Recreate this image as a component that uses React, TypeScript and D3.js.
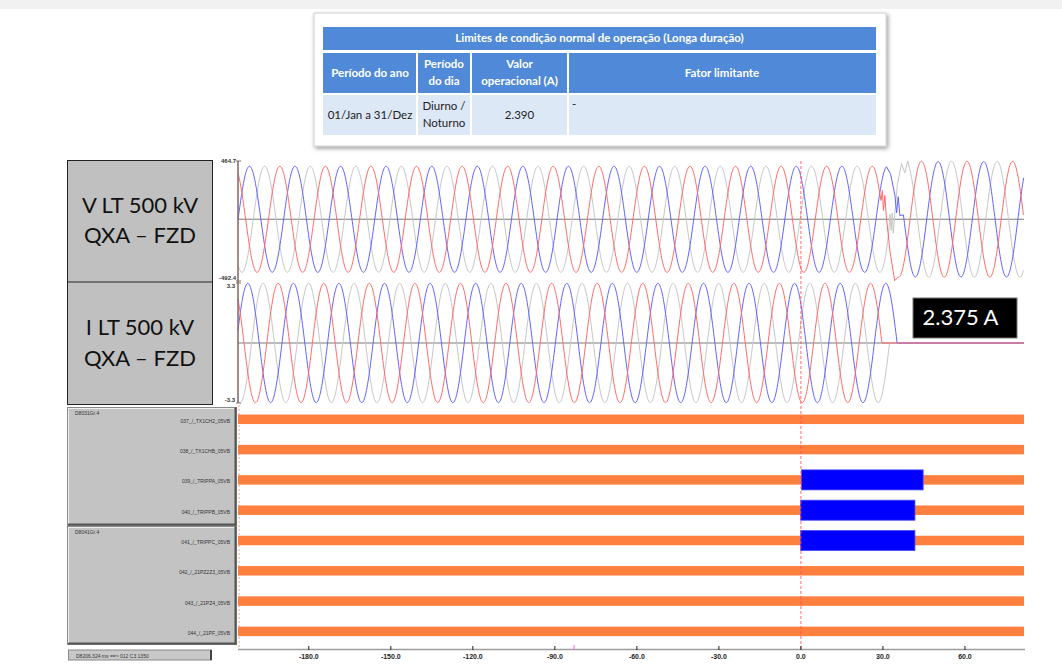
import React from "react";
import * as d3 from "d3";

// ---------- DATA ----------
const timeTicks = [-180, -150, -120, -90, -60, -30, 0, 30, 60];
const timeDomain = [-205.9, 81.6]; // ms
const periodMs = 16.667; // 60 Hz

// phase order as drawn: gray, red, blue
const phaseColors = ["#c6c6c6", "#ff6a6a", "#6262ff"];

// Voltage (kV)
const voltageRange = [-492.4, 464.7];
const voltagePeakPre = [423, 423, 423];
const voltagePeakTimePre = [3.86, 9.41, -1.7];
const voltagePeakPost = [462, 462, 460];
const voltagePeakTimePost = [55.1, 44.1, 50.2];
const voltageTransientStart = [31.0, 28.0, 31.3];
const voltageTransientEnd = [40.0, 35.6, 37.5];
const voltageTransientGray: [number, number][] = [
  [32.0, -130], [32.6, 40], [33.0, -90], [33.4, 50], [33.8, -110], [34.4, 60],
  [35.3, 280], [36.8, 445], [38.0, 370], [39.1, 465],
];
const voltageTransientRed: [number, number][] = [
  [29.3, 150], [29.8, 230], [30.2, 70], [30.7, 190], [31.2, 30], [32.6, -260], [34.3, -490],
];
const voltageTransientBlue: [number, number][] = [
  [32.8, 360], [34.4, 190], [35.0, 50], [35.6, 180], [36.2, 30],
];
const voltageTransients = [voltageTransientGray, voltageTransientRed, voltageTransientBlue];

// Current (kA)
const currentRange = [-3.3, 3.3];
const currentPeak = [3.28, 3.28, 3.28];
const currentPeakTime = [3.26, 8.81, -2.3];
const currentEnd = [32.43, 29.64, 35.2];

// Digital channels
const groupNames = ["D8031Gr.4", "D8041Gr.4"];
const channelNames = [
  "037_/_TX1CH2_05VB",
  "038_/_TX1CHB_05VB",
  "039_/_TRIPPA_05VB",
  "040_/_TRIPPB_05VB",
  "041_/_TRIPPC_05VB",
  "042_/_21PZ2Z3_05VB",
  "043_/_21PZ4_05VB",
  "044_/_21PF_05VB",
];
const tripChannels = [2, 3, 4];
const tripStart = [0.25, -0.1, -0.1];
const tripEnd = [44.7, 41.7, 41.7];

// Table
const tableTitle = "Limites de condição normal de operação (Longa duração)";
const tableHeaders = [["Período do ano"], ["Período", "do dia"], ["Valor", "operacional (A)"], ["Fator limitante"]];
const tableRow = [["01/Jan a 31/Dez"], ["Diurno /", "Noturno"], ["2.390"], ["-"]];

const rmsLabel = "2.375 A";
const voltageTitle = ["V LT 500 kV", "QXA – FZD"];
const currentTitle = ["I LT 500 kV", "QXA – FZD"];
const statusText = "D8206.324 ms ==> 012 C3 1350";

// ---------- LAYOUT ----------
const W = 1062, H = 670;
const plotL = 238, plotR = 1024;
const vTop = 161, vBot = 281;
const iTop = 283, iBot = 403;
const axisY = 649.5;

const x = d3.scaleLinear().domain(timeDomain).range([plotL, plotR]);
const yV = d3.scaleLinear().domain(voltageRange).range([vBot, vTop]);
const yI = d3.scaleLinear().domain(currentRange).range([iBot, iTop]);
const yCh = d3.scalePoint<string>().domain(channelNames).range([419.3, 631.4]);

const cosAt = (A: number, tp: number, t: number) => A * Math.cos((2 * Math.PI * (t - tp)) / periodMs);

function voltageSeries(p: number): [number, number][] {
  const pts: [number, number][] = [];
  const step = 0.2;
  for (let t = timeDomain[0]; t <= voltageTransientStart[p]; t += step)
    pts.push([t, cosAt(voltagePeakPre[p], voltagePeakTimePre[p], t)]);
  pts.push([voltageTransientStart[p], cosAt(voltagePeakPre[p], voltagePeakTimePre[p], voltageTransientStart[p])]);
  voltageTransients[p].forEach((d) => pts.push(d));
  for (let t = voltageTransientEnd[p]; t <= timeDomain[1]; t += step)
    pts.push([t, cosAt(voltagePeakPost[p], voltagePeakTimePost[p], t)]);
  return pts;
}

function currentSeries(p: number): [number, number][] {
  const pts: [number, number][] = [];
  const step = 0.2;
  for (let t = timeDomain[0]; t < currentEnd[p]; t += step)
    pts.push([t, cosAt(currentPeak[p], currentPeakTime[p], t)]);
  pts.push([currentEnd[p], 0]);
  pts.push([timeDomain[1], 0]);
  return pts;
}

const lineV = d3.line<[number, number]>().x((d) => x(d[0])).y((d) => yV(d[1]));
const lineI = d3.line<[number, number]>().x((d) => x(d[0])).y((d) => yI(d[1]));

const sans = "Lato, 'Open Sans', sans-serif";
const small = "'Liberation Sans', Arial, sans-serif";

export default function App() {
  const drawOrder = [0, 2, 1];
  const tL = 323, tR = 876;
  const cols = [323, 417, 471, 568, 876];
  const gap = 2;
  const r1 = [27, 50], r2 = [53, 93], r3 = [95, 135];
  const fs = 11.5;

  return (
    <div style={{ position: "absolute", left: 0, top: 0 }}>
      <svg width={W} height={H} style={{ display: "block", background: "#ffffff" }}>
        <defs>
          <filter id="shadow" x="-5%" y="-10%" width="110%" height="125%">
            <feDropShadow dx="1.5" dy="2" stdDeviation="2" floodColor="#000" floodOpacity="0.4" />
          </filter>
        </defs>
        <rect x={0} y={0} width={W} height={9} fill="#f1f1f1" />

        {/* Table card */}
        <rect x={314} y={13} width={572} height={133} fill="#ffffff" stroke="#d0d0d0" filter="url(#shadow)" />
        <rect x={tL} y={r1[0]} width={tR - tL} height={r1[1] - r1[0]} fill="#4f89d8" />
        <text x={(tL + tR) / 2} y={(r1[0] + r1[1]) / 2 + 1} fill="#fff" fontFamily={sans} fontWeight={700} fontSize={fs}
          textAnchor="middle" dominantBaseline="middle">{tableTitle}</text>
        {tableHeaders.map((lines, i) => {
          const cx = (cols[i] + cols[i + 1]) / 2;
          const x0 = cols[i] + (i === 0 ? 0 : gap / 2);
          const x1 = cols[i + 1] - (i === 3 ? 0 : gap / 2);
          const cy = (r2[0] + r2[1]) / 2;
          return (
            <g key={"h" + i}>
              <rect x={x0} y={r2[0]} width={x1 - x0} height={r2[1] - r2[0]} fill="#4f89d8" />
              <rect x={x0} y={r3[0]} width={x1 - x0} height={r3[1] - r3[0]} fill="#dde8f6" />
              {lines.map((s, j) => (
                <text key={j} x={cx} y={cy + (j - (lines.length - 1) / 2) * 17 + 1} fill="#fff" fontFamily={sans}
                  fontWeight={700} fontSize={fs} textAnchor="middle" dominantBaseline="middle">{s}</text>
              ))}
              {tableRow[i].map((s, j) =>
                i === 3 ? (
                  <text key={j} x={cols[i] + 4} y={r3[0] + 10} fill="#222" fontFamily={sans} fontSize={fs}
                    dominantBaseline="middle">{s}</text>
                ) : (
                  <text key={j} x={cx} y={(r3[0] + r3[1]) / 2 + (j - (tableRow[i].length - 1) / 2) * 17 + 1} fill="#222"
                    fontFamily={sans} fontSize={fs} textAnchor="middle" dominantBaseline="middle">{s}</text>
                )
              )}
            </g>
          );
        })}

        {/* Analog label boxes */}
        <rect x={67.5} y={160.5} width={145} height={244} fill="#c0c0c0" stroke="#222" strokeWidth={1} />
        <line x1={67.5} x2={212.5} y1={282} y2={282} stroke="#222" strokeWidth={1} />
        {voltageTitle.map((s, j) => (
          <text key={"vt" + j} x={140} y={207 + j * 30} fontFamily={sans} fontSize={22} fill="#111" textAnchor="middle"
            dominantBaseline="middle">{s}</text>
        ))}
        {currentTitle.map((s, j) => (
          <text key={"it" + j} x={140} y={329 + j * 31} fontFamily={sans} fontSize={22} fill="#111" textAnchor="middle"
            dominantBaseline="middle">{s}</text>
        ))}

        {/* y labels */}
        <g fontFamily={small} fontWeight={700} fontSize={6} fill="#333" textAnchor="end">
          <text x={236} y={yV(voltageRange[1]) + 2}>{voltageRange[1].toFixed(1)}</text>
          <text x={236} y={yV(voltageRange[0]) - 1}>{voltageRange[0].toFixed(1)}</text>
          <text x={235} y={yI(currentRange[1]) + 5}>{currentRange[1].toFixed(1)}</text>
          <text x={235} y={yI(currentRange[0]) - 1}>{currentRange[0].toFixed(1)}</text>
        </g>

        {/* zero lines */}
        <line x1={plotL} x2={plotR} y1={yV(0)} y2={yV(0)} stroke="#7a7a7a" strokeWidth={1.2} />
        <line x1={plotL} x2={plotR} y1={yI(0)} y2={yI(0)} stroke="#7a7a7a" strokeWidth={1.2} />

        {/* waveforms */}
        {drawOrder.map((p) => (
          <path key={"v" + p} d={lineV(voltageSeries(p)) || ""} fill="none" stroke={phaseColors[p]} strokeWidth={1} />
        ))}
        {drawOrder.map((p) => (
          <path key={"i" + p} d={lineI(currentSeries(p)) || ""} fill="none" stroke={phaseColors[p]} strokeWidth={1} />
        ))}

        {/* y axis line */}
        <line x1={plotL} x2={plotL} y1={vTop} y2={iBot} stroke="#8a6d6d" strokeWidth={1.6} />
        {[vTop, vBot, iTop, iBot].map((yy, k) => (
          <line key={"yt" + k} x1={plotL - 2} x2={plotL + 3} y1={yy} y2={yy} stroke="#8a6d6d" strokeWidth={1} />
        ))}

        {/* RMS label */}
        <rect x={913} y={298} width={104} height={40} fill="#000" stroke="#777" strokeWidth={1} />
        <text x={960.5} y={319} fill="#fff" fontFamily={sans} fontSize={22} textAnchor="middle" dominantBaseline="middle">
          {rmsLabel}
        </text>

        {/* Digital panels */}
        {[0, 1].map((g) => {
          const y0 = g === 0 ? 407.5 : 526.5;
          const h = 118;
          return (
            <g key={"g" + g}>
              <rect x={67.5} y={y0} width={169} height={h} fill="#c3c3c3" stroke="#8a8a8a" strokeWidth={1} />
              <line x1={68} x2={236.5} y1={y0 + h - 1} y2={y0 + h - 1} stroke="#555" strokeWidth={2} />
              <line x1={235.5} x2={235.5} y1={y0} y2={y0 + h} stroke="#555" strokeWidth={2} />
              <line x1={68.5} x2={234} y1={y0 + 1} y2={y0 + 1} stroke="#eee" strokeWidth={1} />
              <line x1={68.5} x2={68.5} y1={y0 + 1} y2={y0 + h - 2} stroke="#eee" strokeWidth={1} />
              <text x={75} y={y0 + 7} fontFamily={small} fontSize={5} fill="#333">{groupNames[g]}</text>
            </g>
          );
        })}
        {channelNames.map((c) => (
          <text key={"cl" + c} x={230} y={(yCh(c) as number) + 3.5} fontFamily={small} fontSize={5} fill="#333" textAnchor="end">{c}</text>
        ))}
        <rect x={68.5} y={650} width={143} height={10} fill="#c8c8c8" stroke="#888" strokeWidth={1} />
        <line x1={211} x2={211} y1={650} y2={660} stroke="#444" strokeWidth={2} />
        <text x={76} y={657.5} fontFamily={small} fontSize={5} fill="#333">{statusText}</text>

        <line x1={239} x2={239} y1={405} y2={647} stroke="#ff9a9a" strokeWidth={1} strokeDasharray="2,2" />

        {/* channel bars */}
        {channelNames.map((c) => (
          <rect key={"cb" + c} x={plotL} y={(yCh(c) as number) - 4.75} width={plotR - plotL} height={9.5} fill="#ff7f3e" />
        ))}
        {tripChannels.map((ci, k) => (
          <rect key={"tb" + k} x={x(tripStart[k])} y={(yCh(channelNames[ci]) as number) - 10} width={x(tripEnd[k]) - x(tripStart[k])}
            height={20} fill="#0000ff" stroke="#4444ff" strokeWidth={0.8} />
        ))}

        {/* trigger line */}
        <line x1={x(0)} x2={x(0)} y1={vTop} y2={axisY} stroke="#ff5050" strokeWidth={1} strokeDasharray="3,2" opacity={0.85} />

        {/* time axis */}
        <line x1={plotL} x2={plotR + 1} y1={axisY} y2={axisY} stroke="#9d9d9d" strokeWidth={1.5} />
        <line x1={574} x2={574} y1={645} y2={650} stroke="#ff66ff" strokeWidth={1} />
        {timeTicks.map((t) => (
          <g key={"tt" + t}>
            <line x1={x(t)} x2={x(t)} y1={646} y2={650} stroke="#222" strokeWidth={1} />
            <text x={x(t)} y={658.5} fontFamily={small} fontWeight={700} fontSize={7} fill="#222" textAnchor="middle">
              {t.toFixed(1)}
            </text>
          </g>
        ))}
      </svg>
    </div>
  );
}
